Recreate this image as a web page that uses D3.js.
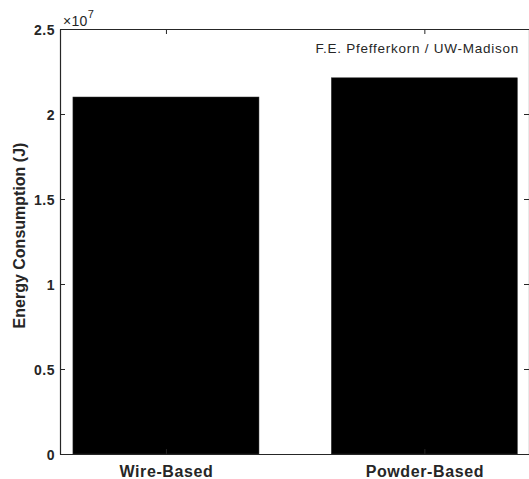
<!DOCTYPE html>
<html>
<head>
<meta charset="utf-8">
<script src="https://d3js.org/d3.v7.min.js"></script>
<style>
  body { margin: 0; background: #fff; }
  svg { display: block; font-family: "Liberation Sans", Arial, sans-serif; }
  .tick text { fill: #262626; font-weight: bold; font-size: 14px; letter-spacing: 0.5px; }
  .domain, .tick line { stroke: #262626; }
</style>
</head>
<body>
<script>
// data
var categories = ["Wire-Based", "Powder-Based"];
var energy = [2.10e7, 2.213e7];
var yTicks = [0, 0.5e7, 1e7, 1.5e7, 2e7, 2.5e7];
var yTickLabels = ["0", "0.5", "1", "1.5", "2", "2.5"];

var W = 529, H = 479;
// plot box edges (note: "top" is reserved on window, so use plot* names)
var plotLeft = 60, plotRight = 529, plotTop = 29, plotBottom = 454;
var barWidth = 0.72;

var svg = d3.select("body").append("svg")
    .attr("width", W)
    .attr("height", H);

// x is category index (1, 2) like a MATLAB bar plot
var x = d3.scaleLinear().domain([0.59, 2.405]).range([plotLeft, plotRight]);
var y = d3.scaleLinear().domain([0, 2.5e7]).range([plotBottom, plotTop]);

// bars
svg.selectAll(".bar")
    .data(energy)
    .enter().append("rect")
    .attr("class", "bar")
    .attr("x", function(d, i) { return x(i + 1 - barWidth / 2); })
    .attr("width", function() { return x(1 + barWidth) - x(1); })
    .attr("y", function(d) { return y(d); })
    .attr("height", function(d) { return y(0) - y(d); })
    .attr("fill", "#000")
    .attr("stroke", "#333")
    .attr("stroke-width", 0.5);

// left axis, ticks pointing inward
var yAxis = svg.append("g")
    .attr("transform", "translate(" + plotLeft + ",0)")
    .call(d3.axisLeft(y).tickValues(yTicks)
        .tickFormat(function(d, i) { return yTickLabels[i]; })
        .tickSizeInner(-5).tickSizeOuter(0));
yAxis.selectAll(".tick text").attr("x", -5).attr("dy", "0.36em");

// right axis (box), ticks only
svg.append("g")
    .attr("transform", "translate(" + plotRight + ",0)")
    .call(d3.axisRight(y).tickValues(yTicks).tickFormat("")
        .tickSizeInner(-5).tickSizeOuter(0));

// bottom axis with category labels
var xAxis = svg.append("g")
    .attr("transform", "translate(0," + plotBottom + ")")
    .call(d3.axisBottom(x).tickValues([1, 2])
        .tickFormat(function(d) { return categories[d - 1]; })
        .tickSizeInner(-5).tickSizeOuter(0));
xAxis.selectAll(".tick text")
    .attr("y", 23).attr("dy", 0)
    .style("font-size", "16px")
    .style("letter-spacing", "0.6px");

// top axis (box)
svg.append("g")
    .attr("transform", "translate(0," + plotTop + ")")
    .call(d3.axisTop(x).tickValues([1, 2]).tickFormat("")
        .tickSizeInner(-5).tickSizeOuter(0));

svg.selectAll(".domain").attr("stroke-width", 1.2);

// exponent label
var expo = svg.append("text")
    .attr("x", 63)
    .attr("y", 26)
    .attr("fill", "#262626")
    .style("font-size", "14px")
    .style("letter-spacing", "0.3px");
expo.append("tspan").text("\u00d710");
expo.append("tspan").attr("dy", -8).style("font-size", "11px").text("7");

// y axis title
svg.append("text")
    .attr("transform", "translate(25," + 235.5 + ") rotate(-90)")
    .attr("text-anchor", "middle")
    .attr("fill", "#262626")
    .style("font-size", "16px")
    .style("font-weight", "bold")
    .text("Energy Consumption (J)");

// credit
svg.append("text")
    .attr("x", 519)
    .attr("y", 53)
    .attr("text-anchor", "end")
    .attr("fill", "#262626")
    .style("font-size", "13.5px")
    .style("letter-spacing", "0.75px")
    .text("F.E. Pfefferkorn / UW-Madison");
</script>
</body>
</html>
